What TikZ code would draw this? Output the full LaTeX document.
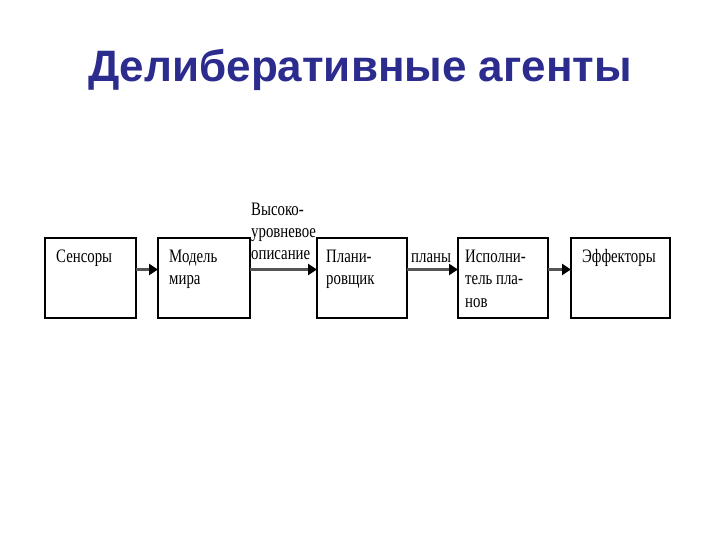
\documentclass[tikz,border=0pt]{standalone}
\usepackage{fontspec}
\usetikzlibrary{arrows.meta}
\newfontfamily\titlefont{Liberation Sans}
\newfontfamily\bodyfont[FakeStretch=0.78]{Liberation Serif}
\definecolor{titleblue}{RGB}{44,44,143}
\definecolor{arrowgray}{RGB}{85,85,85}
\newcommand{\linesof}[1]{\vtop{\baselineskip=22bp\halign{##\hfil\cr#1\crcr}}}
\begin{document}
\begin{tikzpicture}[x=1bp,y=-1bp,
  blockbox/.style={draw=black,line width=2bp,fill=white,minimum width=90bp,minimum height=80bp,inner sep=0pt,outer sep=0pt},
  boxtext/.style={anchor=base west,inner sep=0pt,font=\bodyfont\fontsize{19bp}{22bp}\selectfont},
  flow/.style={draw=arrowgray,line width=3.5bp,-{Triangle[length=9bp,width=11bp,color=black]}}]
\useasboundingbox (0,0) rectangle (720,540);
\fill[white] (0,0) rectangle (720,540);
\node[anchor=base,inner sep=0pt,text=titleblue,font=\titlefont\bfseries\fontsize{44bp}{50bp}\selectfont] (title) at (360,82) {Делиберативные агенты};
% boxes
\node[blockbox,anchor=north west,minimum width=91bp] (b1) at (45,238) {};
\node[blockbox,anchor=north west,minimum width=92bp] (b2) at (158,238) {};
\node[blockbox,anchor=north west,minimum width=90bp] (b3) at (317,238) {};
\node[blockbox,anchor=north west,minimum width=90bp] (b4) at (458,238) {};
\node[blockbox,anchor=north west,minimum width=99bp] (b5) at (571,238) {};
% texts
\node[boxtext] (t1) at (56,263) {Сенсоры};
\node[boxtext] (t2) at (169,263) {\linesof{Модель\cr мира}};
\node[boxtext] (t3) at (326,263) {\linesof{Плани-\cr ровщик}};
\node[boxtext] (t4) at (465,263) {\linesof{Исполни-\cr тель пла-\cr нов}};
\node[boxtext] (t5) at (582,263) {Эффекторы};
\node[boxtext] (l1) at (251,216) {\linesof{Высоко-\cr уровневое\cr описание}};
\node[boxtext] (l2) at (411,263) {планы};
% arrows
\draw[flow] (b1.east |- 0,269.5) -- (b2.west |- 0,269.5);
\draw[flow] (b2.east |- 0,269.5) -- (b3.west |- 0,269.5);
\draw[flow] (b3.east |- 0,269.5) -- (b4.west |- 0,269.5);
\draw[flow] (b4.east |- 0,269.5) -- (b5.west |- 0,269.5);
\end{tikzpicture}
\end{document}
